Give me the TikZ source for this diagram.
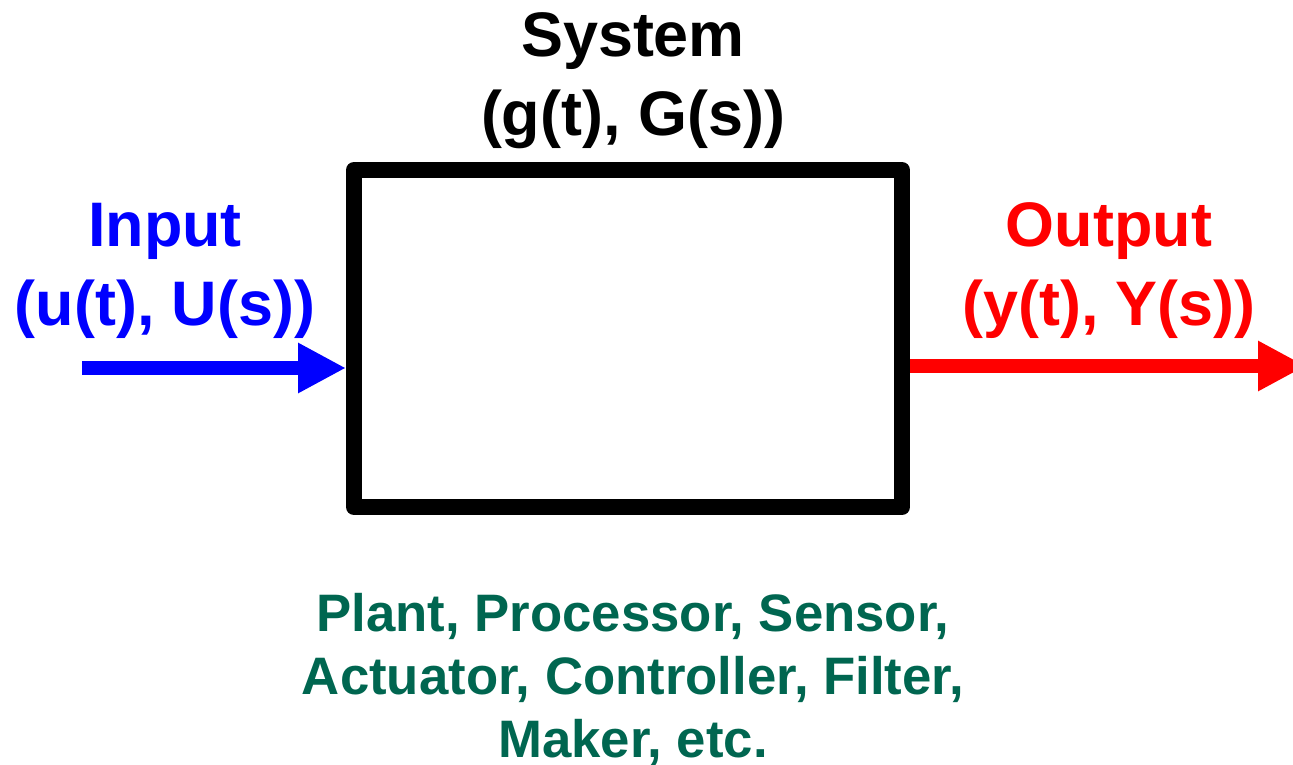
\documentclass[tikz,border=0pt]{standalone}
\usepackage{fontspec}
\setmainfont{Liberation Sans}
\usetikzlibrary{arrows.meta}
\definecolor{sysgreen}{RGB}{0,102,80}
\begin{document}
\begin{tikzpicture}[
    lbl/.style={font=\bfseries\fontsize{17.9pt}{22.2pt}\selectfont, align=center, anchor=base},
    note/.style={font=\bfseries\fontsize{15pt}{17.9pt}\selectfont, align=center, anchor=base, text=sysgreen},
    sig/.style={line width=4.25pt, -{Triangle[length=0.48cm, width=0.47cm]}}
  ]
    \useasboundingbox (0,0) rectangle (12.93,7.64);
    \clip (0,0) rectangle (12.93,7.64);
    % the block
    \node[draw, line width=4.55pt, line join=round, minimum width=5.48cm,
          minimum height=3.37cm, inner sep=0pt] (sys) at (6.28,4.255) {};
    \node[lbl] (sysname) at (6.33,6.29) {System\\(g(t), G(s))};
    % signals
    \coordinate (uin) at (0.82,3.96);
    \coordinate (yout) at (13.06,3.98);
    \draw[sig, blue] (uin) -- (uin -| sys.west);
    \draw[sig, red] (yout -| sys.east) -- (yout);
    \node[lbl, text=blue] (inlbl) at (1.65,4.39) {Input\\(u(t), U(s))};
    \node[lbl, text=red] (outlbl) at (11.09,4.39) {Output\\(y(t), Y(s))};
    % examples
    \node[note] (kinds) at (6.33,0.07) {Plant, Processor, Sensor,\\Actuator, Controller, Filter,\\Maker, etc.};
\end{tikzpicture}
\end{document}
